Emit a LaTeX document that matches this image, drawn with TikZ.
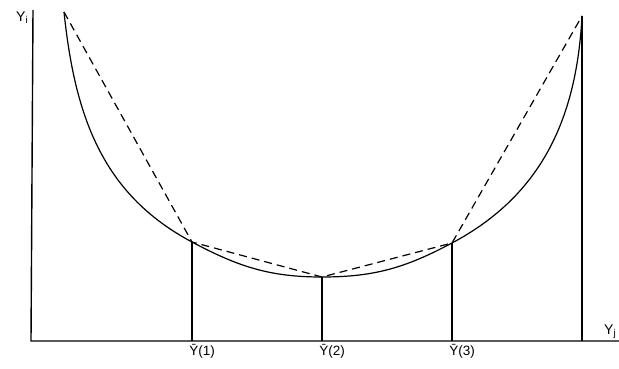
\documentclass[tikz,border=0pt]{standalone}
\usepackage{fontspec}
\setmainfont{Liberation Sans}
\usetikzlibrary{positioning}
\tikzset{
  axisline/.style={line width=1.4pt, color=black},
  curveline/.style={line width=1.2pt, color=black},
  chord/.style={line width=1.2pt, color=black, dash pattern=on 8pt off 5pt},
  drop/.style={line width=1.2pt, color=black},
  ticklabel/.style={font=\fontsize{13.5}{15}\selectfont, inner sep=1pt},
  axislabel/.style={font=\fontsize{14}{16}\selectfont, inner sep=1pt}
}

\begin{document}
\begin{tikzpicture}[x=1pt, y=1pt]
  \useasboundingbox (0,0) rectangle (619,368);

  % axes
  \coordinate (orig) at (31,27);
  \coordinate (ytop) at (33,358);
  \coordinate (xend) at (619,27);
  \draw[axisline] (ytop) -- (orig) -- (xend);
  \node[axislabel, below left=1pt and 4pt of ytop] (yi) {Y{\fontsize{10}{10}\selectfont\raisebox{-2pt}{i}}};
  \node[axislabel, above left=1pt and 2pt of xend] (yj) {Y{\fontsize{10}{10}\selectfont\raisebox{-2pt}{j}}};

  % points on the curve
  \coordinate (tl) at (64,356);
  \coordinate (p1) at (192,126);
  \coordinate (p2) at (322,91);
  \coordinate (p3) at (452,125);
  \coordinate (tr) at (582,352);

  % feet on the axis
  \coordinate (f1) at (192,27);
  \coordinate (f2) at (322,27);
  \coordinate (f3) at (452,27);
  \coordinate (f4) at (582,27);

  % curve
  \draw[curveline] (tl) to[out=-84, in=152] (p1) to[out=-28, in=180] (p2)
    to[out=0, in=-152] (p3) to[out=28, in=-93] (tr);

  % chords
  \draw[chord] (tl) -- (p1) -- (p2) -- (p3) -- (tr);

  % verticals
  \draw[drop] (p1) -- (f1);
  \draw[drop] (p2) -- (f2);
  \draw[drop] (p3) -- (f3);
  \draw[drop] (tr) -- (f4);

  % labels
  \node[ticklabel, below=2pt of f1, xshift=10pt] (l1) {\={Y}(1)};
  \node[ticklabel, below=2pt of f2, xshift=10pt] (l2) {\={Y}(2)};
  \node[ticklabel, below=2pt of f3, xshift=10pt] (l3) {\={Y}(3)};
\end{tikzpicture}
\end{document}
